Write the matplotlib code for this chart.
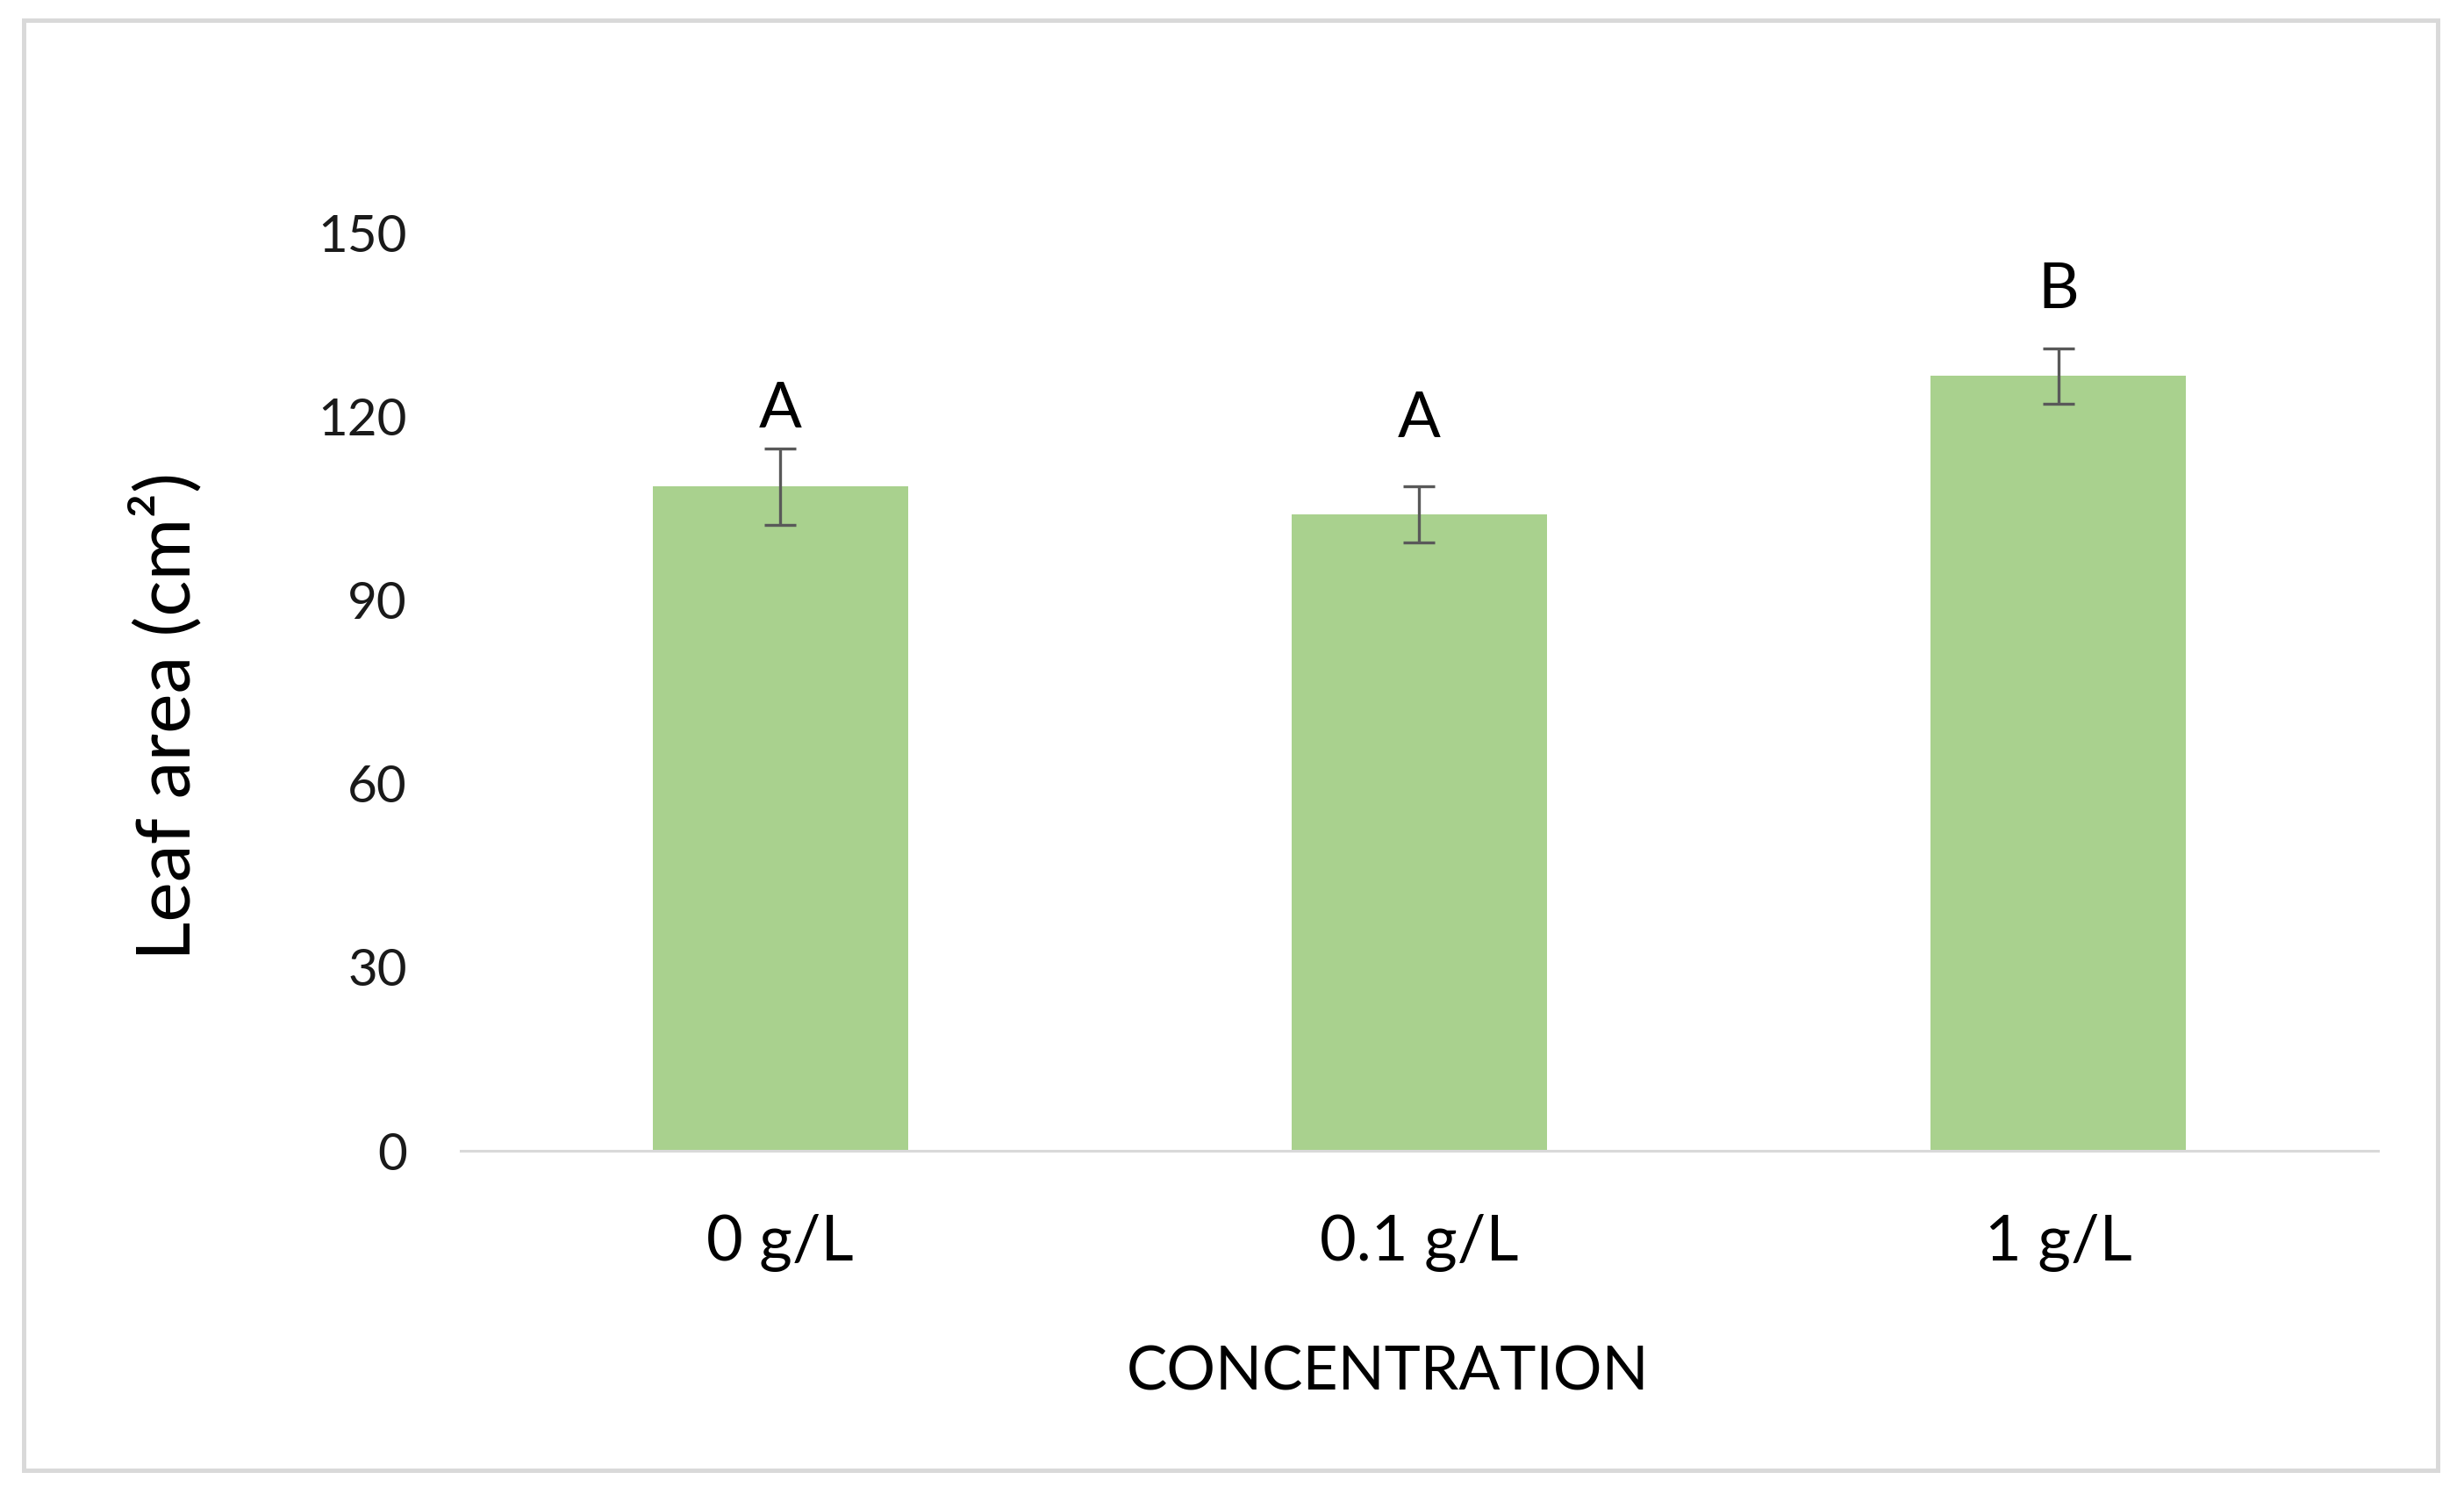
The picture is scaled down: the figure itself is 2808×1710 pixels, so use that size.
import numpy as np
import matplotlib
matplotlib.use("Agg")
import matplotlib.pyplot as plt
from matplotlib.patches import Rectangle

plt.rcParams['font.family'] = ['Lato', 'DejaVu Sans']

categories = ['0 g/L', '0.1 g/L', '1 g/L']
leaf_area = [108.5, 104.0, 126.6]
errors = [6.3, 4.6, 4.5]
letters = ['A', 'A', 'B']
letter_y = [116.4, 114.9, 136.0]

bar_color = '#a9d18e'
err_color = '#595959'

fig = plt.figure(figsize=(14.04, 8.55), dpi=200)
ax = fig.add_axes([0.187, 0.2333, 0.778, 0.6117])

x = np.arange(len(categories))
ax.bar(x, leaf_area, width=0.4, color=bar_color, zorder=2)
ax.errorbar(x, leaf_area, yerr=errors, fmt='none', ecolor=err_color,
            elinewidth=1.2, capsize=6.6, capthick=1.2, zorder=3)

for xi, t, yl in zip(x, letters, letter_y):
    ax.text(xi, yl, t, ha='center', va='bottom', fontsize=26, color='black')

ax.set_xlim(-0.5, 2.5)
ax.set_ylim(0, 150)
ax.set_yticks([0, 30, 60, 90, 120, 150])
ax.set_xticks(x)
ax.set_xticklabels(categories, fontsize=26, color='black')
ax.tick_params(axis='y', length=0, pad=22, labelsize=21, labelcolor='#1a1a1a')
ax.tick_params(axis='x', length=0, pad=26)

for s in ['top', 'right', 'left']:
    ax.spines[s].set_visible(False)
ax.spines['bottom'].set_color('#d9d9d9')
ax.spines['bottom'].set_linewidth(1.1)

ax.set_ylabel('Leaf area (cm²)', fontsize=31, color='black',
              ha='center', va='center')
ax.yaxis.set_label_coords(-0.1533, 0.473)
fig.text(0.5634, 1 - 1564 / 1710, 'CONCENTRATION', ha='center', va='center',
         fontsize=25, color='black')

# outer chart border
fig.patches.append(Rectangle((27 / 2808, 1 - 1675 / 1710), (2778 - 27) / 2808,
                             (1675 - 23) / 1710, transform=fig.transFigure,
                             fill=False, edgecolor='#d9d9d9', linewidth=1.8))

fig.savefig('out.png', dpi=200)
